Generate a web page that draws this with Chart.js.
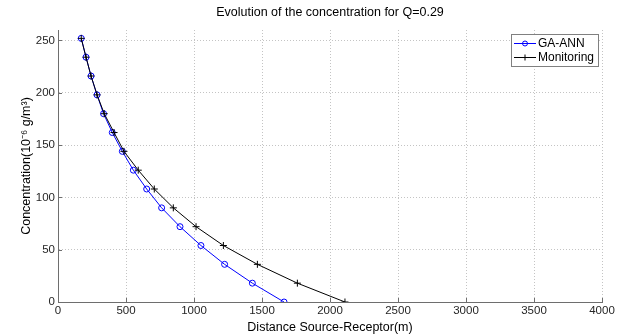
<!DOCTYPE html>
<html>
<head>
<meta charset="utf-8">
<script src="https://cdn.jsdelivr.net/npm/chart.js@4/dist/chart.umd.min.js"></script>
<style>
  html, body { margin: 0; padding: 0; background: #ffffff; }
  canvas { display: block; }
</style>
</head>
<body>
<canvas id="c" width="627" height="336"></canvas>
<script>
// ---- data ----
const concentration = [252, 234, 216, 198, 180, 162, 144, 126, 108, 90, 72, 54, 36, 18, 0];
const distanceGAANN = [171, 206, 243, 287, 335, 399, 473, 554, 652, 762, 897, 1051, 1225, 1429, 1662];
const distanceMonitoring = [171, 206, 243, 287, 340, 412, 485, 590, 708, 848, 1015, 1216, 1466, 1760, 2110];
const seriesLabels = ['GA-ANN', 'Monitoring'];
const xTickValues = [0, 500, 1000, 1500, 2000, 2500, 3000, 3500, 4000];
const yTickValues = [0, 50, 100, 150, 200, 250];
const titleText = 'Evolution of the concentration for Q=0.29';
const xTitle = 'Distance Source-Receptor(m)';
const yTitle = 'Concentration(10\u207B\u2076 g/m\u00B3)';

const FONT = '"Liberation Sans", Arial, sans-serif';

function toPoints(xs, ys) { return xs.map((x, i) => ({ x: x, y: ys[i] })); }

// inward tick marks like the original
const innerTicks = {
  id: 'innerTicks',
  afterDraw(chart) {
    const ctx = chart.ctx, xs = chart.scales.x, ys = chart.scales.y;
    const a = chart.chartArea;
    ctx.save();
    ctx.strokeStyle = '#6e6e6e';
    ctx.lineWidth = 1;
    ctx.beginPath();
    xTickValues.forEach(v => {
      const px = Math.round(xs.getPixelForValue(v)) + 0.5;
      ctx.moveTo(px, a.bottom); ctx.lineTo(px, a.bottom - 4);
    });
    yTickValues.forEach(v => {
      const py = Math.round(ys.getPixelForValue(v)) + 0.5;
      ctx.moveTo(a.left, py); ctx.lineTo(a.left + 4, py);
    });
    ctx.stroke();
    ctx.restore();
  }
};

// MATLAB-style legend box in the upper right of the plot
const boxLegend = {
  id: 'boxLegend',
  afterDraw(chart) {
    const ctx = chart.ctx, a = chart.chartArea;
    const w = 87, h = 32;
    const x0 = a.right - w - 4, y0 = a.top + 4;
    ctx.save();
    ctx.fillStyle = '#ffffff';
    ctx.fillRect(x0, y0, w, h);
    ctx.strokeStyle = '#808080';
    ctx.lineWidth = 1;
    ctx.strokeRect(x0 + 0.5, y0 + 0.5, w, h);
    ctx.font = '12px ' + FONT;
    ctx.textBaseline = 'middle';
    chart.data.datasets.forEach((ds, i) => {
      const yy = y0 + 9 + i * 14 + 0.5;
      const lx0 = x0 + 3, lx1 = x0 + 25, mx = (lx0 + lx1) / 2;
      ctx.strokeStyle = ds.borderColor;
      ctx.beginPath(); ctx.moveTo(lx0, yy); ctx.lineTo(lx1, yy); ctx.stroke();
      ctx.beginPath();
      if (ds.pointStyle === 'circle') {
        ctx.arc(mx, yy, 2.5, 0, Math.PI * 2);
      } else {
        ctx.moveTo(mx - 3, yy); ctx.lineTo(mx + 3, yy);
        ctx.moveTo(mx, yy - 3); ctx.lineTo(mx, yy + 3);
      }
      ctx.stroke();
      ctx.fillStyle = '#000000';
      ctx.fillText(ds.label, x0 + 27, yy);
    });
    ctx.restore();
  }
};

new Chart(document.getElementById('c'), {
  type: 'line',
  data: {
    datasets: [
      {
        label: seriesLabels[0],
        data: toPoints(distanceGAANN, concentration),
        borderColor: '#0000ff',
        backgroundColor: 'rgba(0,0,0,0)',
        borderWidth: 1,
        pointStyle: 'circle',
        pointRadius: 3,
        pointBorderWidth: 1,
        pointBorderColor: '#0000ff',
        pointBackgroundColor: 'rgba(0,0,0,0)',
        tension: 0,
        order: 1
      },
      {
        label: seriesLabels[1],
        data: toPoints(distanceMonitoring, concentration),
        borderColor: '#000000',
        backgroundColor: 'rgba(0,0,0,0)',
        borderWidth: 1,
        pointStyle: 'cross',
        pointRadius: 3.5,
        pointBorderWidth: 1,
        pointBorderColor: '#000000',
        tension: 0,
        order: 0
      }
    ]
  },
  options: {
    responsive: false,
    animation: false,
    layout: { padding: { left: 0, right: 25, top: 0, bottom: 0 } },
    plugins: {
      legend: { display: false },
      tooltip: { enabled: false },
      title: {
        display: true,
        fullSize: false,
        text: titleText,
        color: '#000000',
        font: { family: FONT, size: 12.5, weight: 'normal' },
        padding: { top: 5, bottom: 10 }
      }
    },
    scales: {
      x: {
        type: 'linear',
        min: 0, max: 4000,
        afterFit(s) { s.height = 34; },
        afterBuildTicks(s) { s.ticks = xTickValues.map(v => ({ value: v })); },
        ticks: {
          color: '#262626',
          font: { family: FONT, size: 11.5 },
          padding: 2,
          maxRotation: 0,
          autoSkip: false,
          callback: v => String(v)
        },
        grid: { color: '#c4c4c4', drawTicks: false, lineWidth: 1 },
        border: { display: true, color: '#6e6e6e', width: 1, dash: [1, 2] },
        title: {
          display: true,
          text: xTitle,
          color: '#000000',
          font: { family: FONT, size: 12.5 },
          padding: { top: 0, bottom: 1 }
        }
      },
      y: {
        min: 0, max: 260,
        afterFit(s) { s.width = 58; },
        afterBuildTicks(s) { s.ticks = yTickValues.map(v => ({ value: v })); },
        ticks: {
          color: '#262626',
          font: { family: FONT, size: 11.5 },
          padding: 3,
          autoSkip: false,
          callback: v => String(v)
        },
        grid: { color: '#c4c4c4', drawTicks: false, lineWidth: 1 },
        border: { display: true, color: '#6e6e6e', width: 1, dash: [1, 2] },
        title: {
          display: true,
          text: yTitle,
          color: '#000000',
          font: { family: FONT, size: 12.5 },
          padding: { top: 19, bottom: 0 }
        }
      }
    }
  },
  plugins: [innerTicks, boxLegend]
});
</script>
</body>
</html>
